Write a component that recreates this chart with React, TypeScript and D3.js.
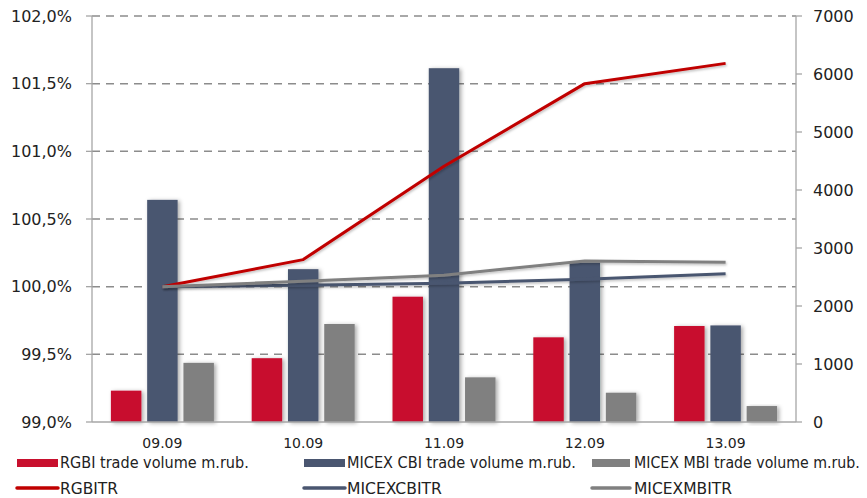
import React, { useLayoutEffect, useRef, useState } from "react";
import * as d3 from "d3";

const categories = ["09.09", "10.09", "11.09", "12.09", "13.09"];
const rgbiVolume = [540, 1100, 2160, 1460, 1655];
const cbiVolume = [3830, 2635, 6100, 2750, 1665];
const mbiVolume = [1020, 1690, 770, 505, 275];
const rgbitr = [100.0, 100.2, 100.89, 101.5, 101.65];
const micexcbitr = [100.0, 100.01, 100.025, 100.055, 100.095];
const micexmbitr = [100.0, 100.04, 100.085, 100.19, 100.18];
const leftTicks = [99.0, 99.5, 100.0, 100.5, 101.0, 101.5, 102.0];
const rightTicks = [0, 1000, 2000, 3000, 4000, 5000, 6000, 7000];

const barSeries = [
  { name: "RGBI trade volume m.rub.", values: rgbiVolume, color: "#C8102E" },
  { name: "MICEX CBI trade volume m.rub.", values: cbiVolume, color: "#4A5670" },
  { name: "MICEX MBI trade volume m.rub.", values: mbiVolume, color: "#808080" },
];
const lineSeries = [
  { name: "RGBITR", values: rgbitr, color: "#C00000" },
  { name: "MICEXCBITR", values: micexcbitr, color: "#4A5670" },
  { name: "MICEXMBITR", values: micexmbitr, color: "#808080" },
];

const W = 867, H = 498;
const left = 92, right = 796, top = 16, bottom = 422;
const font = "Verdana, 'DejaVu Sans', sans-serif";

function FitText({ x, y, width, children }: { x: number; y: number; width: number; children: string }) {
  const ref = useRef<SVGTextElement>(null);
  const [sx, setSx] = useState(1);
  useLayoutEffect(() => {
    if (ref.current) {
      const w = ref.current.getComputedTextLength();
      if (w > 0) setSx(width / w);
    }
  }, [width, children]);
  return (
    <text ref={ref} transform={`translate(${x},${y}) scale(${sx},1)`} fontFamily={font} fontSize={15} fill="#222">
      {children}
    </text>
  );
}

export default function App() {
  const x = d3.scaleBand<string>().domain(categories).range([left, right]);
  const inner = d3.scaleBand<number>().domain([0, 1, 2]).range([-51.5, 51.5]).paddingInner(0.16);
  const yL = d3.scaleLinear().domain([99, 102]).range([bottom, top]);
  const yR = d3.scaleLinear().domain([0, 7000]).range([bottom, top]);
  const cx = (c: string) => (x(c) as number) + x.bandwidth() / 2;
  const fmtL = (v: number) => d3.format(".1f")(v).replace(".", ",") + "%";

  const legendBars = [
    { x0: 17, x1: 58, tx: 60, tw: 189 },
    { x0: 304, x1: 345, tx: 347, tw: 229 },
    { x0: 592, x1: 630, tx: 634, tw: 226 },
  ];
  const legendLineTw = [58, 95, 98];

  return (
    <svg width={W} height={H} style={{ position: "absolute", left: 0, top: 0 }}>
      <defs>
        <filter id="sh" x="-30%" y="-10%" width="160%" height="130%">
          <feDropShadow dx="2" dy="1" stdDeviation="2" floodColor="#000" floodOpacity="0.35" />
        </filter>
        <filter id="shl" x="-10%" y="-50%" width="120%" height="200%">
          <feDropShadow dx="1" dy="1.5" stdDeviation="1.2" floodColor="#000" floodOpacity="0.25" />
        </filter>
      </defs>
      <rect width={W} height={H} fill="#fff" />
      {leftTicks.filter((t) => t > 99).map((t) => (
        <line key={t} x1={left} x2={right} y1={yL(t)} y2={yL(t)} stroke="#8c8c8c" strokeWidth={1.5} strokeDasharray="8,6" />
      ))}
      {categories.map((c, i) =>
        barSeries.map((s, j) => (
          <rect key={c + j} x={cx(c) + (inner(j) as number)} width={inner.bandwidth()} y={yR(s.values[i])}
            height={bottom - yR(s.values[i])} fill={s.color} filter="url(#sh)" />
        ))
      )}
      {lineSeries.map((s) => {
        const line = d3.line<number>().x((_, i) => cx(categories[i])).y((v) => yL(v));
        return <path key={s.name} d={line(s.values) as string} fill="none" stroke={s.color} strokeWidth={3} strokeLinejoin="round" filter="url(#shl)" />;
      })}
      <line x1={left} x2={left} y1={top} y2={bottom} stroke="#a6a6a6" strokeWidth={1.3} />
      <line x1={right} x2={right} y1={top} y2={bottom} stroke="#a6a6a6" strokeWidth={1.3} />
      <line x1={left} x2={right} y1={bottom} y2={bottom} stroke="#a6a6a6" strokeWidth={1.3} />
      {leftTicks.map((t) => (
        <g key={t}>
          <line x1={left - 6} x2={left} y1={yL(t)} y2={yL(t)} stroke="#a6a6a6" strokeWidth={1.3} />
          <text x={72} y={yL(t)} dy="0.36em" textAnchor="end" fontFamily={font} fontSize={16} fill="#222">{fmtL(t)}</text>
        </g>
      ))}
      {rightTicks.map((t) => (
        <g key={t}>
          <line x1={right} x2={right + 6} y1={yR(t)} y2={yR(t)} stroke="#a6a6a6" strokeWidth={1.3} />
          <text x={813} y={yR(t)} dy="0.36em" textAnchor="start" fontFamily={font} fontSize={16} fill="#222">{t}</text>
        </g>
      ))}
      {categories.map((c) => (
        <text key={c} x={cx(c)} y={448} textAnchor="middle" fontFamily={font} fontSize={14} fill="#222">{c}</text>
      ))}
      {barSeries.map((s, j) => (
        <g key={s.name}>
          <rect x={legendBars[j].x0} y={459} width={legendBars[j].x1 - legendBars[j].x0} height={8} fill={s.color} />
          <FitText x={legendBars[j].tx} y={468} width={legendBars[j].tw}>{s.name}</FitText>
        </g>
      ))}
      {lineSeries.map((s, j) => (
        <g key={s.name}>
          <line x1={legendBars[j].x0} x2={legendBars[j].x1} y1={488} y2={488} stroke={s.color} strokeWidth={3.5} strokeLinecap="round" />
          <FitText x={legendBars[j].tx} y={494} width={legendLineTw[j]}>{s.name}</FitText>
        </g>
      ))}
    </svg>
  );
}
